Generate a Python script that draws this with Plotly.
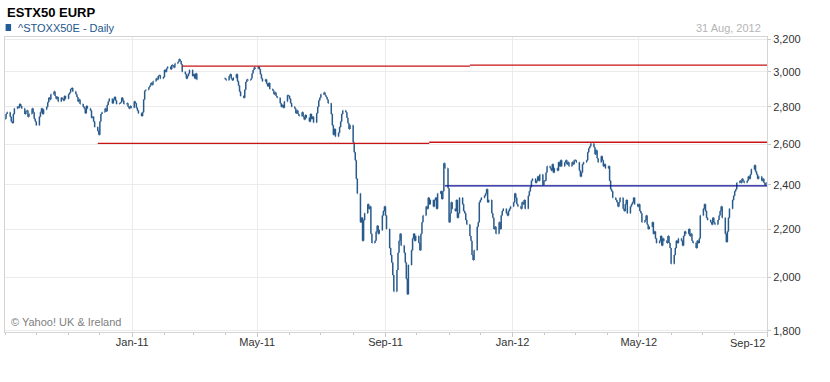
import math
import pandas as pd
import plotly.graph_objects as go

# ---------------- data (daily closes, one list per month) -------------
SEP10 = [2735, 2760, 2770, 2745, 2720, 2712, 2760, 2790, 2800, 2795, 2815, 2805, 2790, 2760, 2775, 2780, 2745, 2760, 2790, 2770, 2735, 2720]
OCT10 = [2700, 2745, 2770, 2790, 2760, 2785, 2800, 2825, 2850, 2840, 2870, 2885, 2860, 2845, 2855, 2830, 2850, 2845, 2835, 2860, 2845]
NOV10 = [2870, 2880, 2900, 2905, 2885, 2870, 2855, 2830, 2840, 2815, 2800, 2790, 2765, 2805, 2790, 2780, 2740, 2745, 2720, 2690, 2670, 2650]
DEC10 = [2720, 2760, 2770, 2790, 2775, 2810, 2830, 2845, 2820, 2840, 2855, 2835, 2815, 2820, 2825, 2850, 2835, 2815, 2820, 2800, 2790, 2805, 2795]
JAN11 = [2830, 2820, 2795, 2780, 2765, 2750, 2770, 2840, 2890, 2895, 2910, 2920, 2935, 2925, 2945, 2960, 2955, 2975, 2980, 2960, 2970]
FEB11 = [3010, 3000, 3020, 3030, 3015, 3040, 3035, 3025, 3050, 3060, 3075, 3065, 3045, 3000, 2985, 2960, 2975, 2990, 3010, 2975]
MAR11 = [2985, 2960, 2990, 2955] + [None] * 18 + [2960]
APR11 = [2950, 2975, 2985, 2960, 2950, 2965, 2985, 2945, 2920, 2885, 2860, 2850, 2895, 2940, 2955, 2950, 2960, 2990, 3010, 3025, 3020]
MAY11 = [3030, 3015, 2985, 2960, 2945, 2955, 2930, 2915, 2935, 2900, 2890, 2870, 2880, 2860, 2850, 2820, 2800, 2810, 2795, 2830, 2865, 2860]
JUN11 = [2845, 2820, 2800, 2790, 2765, 2780, 2760, 2750, 2770, 2745, 2730, 2755, 2740, 2720, 2760, 2735, 2745, 2715, 2765, 2800, 2835, 2850]
JUL11 = [2870, 2880, 2865, 2855, 2840, 2820, 2760, 2700, 2650, 2680, 2640, 2660, 2690, 2720, 2760, 2780, 2770, 2740, 2710, 2680, 2700]
AUG11 = [2610, 2560, 2520, 2430, 2360, 2230, 2250, 2150, 2240, 2270, 2310, 2290, 2300, 2180, 2140, 2150, 2190, 2215, 2180, 2195, 2260, 2280, 2300]
SEP11 = [2260, 2200, 2120, 2090, 2060, 2010, 1945, 2030, 2100, 2150, 2180, 2130, 2100, 2060, 1995, 1935, 2050, 2110, 2160, 2180, 2150, 2170]
OCT11 = [2140, 2110, 2180, 2230, 2260, 2300, 2290, 2340, 2310, 2330, 2300, 2330, 2340, 2290, 2360, 2370, 2335, 2370, 2505, 2480, 2385]
NOV11 = [2230, 2270, 2320, 2290, 2280, 2330, 2250, 2270, 2340, 2310, 2280, 2270, 2240, 2220, 2170, 2150, 2090, 2070, 2110, 2210, 2230, 2320]
DEC11 = [2330, 2340, 2350, 2360, 2380, 2320, 2330, 2270, 2250, 2200, 2210, 2180, 2230, 2200, 2260, 2280, 2290, 2270, 2260, 2280, 2290, 2300]
JAN12 = [2320, 2360, 2340, 2310, 2300, 2290, 2320, 2310, 2330, 2290, 2350, 2370, 2390, 2420, 2430, 2410, 2420, 2440, 2420, 2450, 2400, 2420]
FEB12 = [2420, 2460, 2490, 2480, 2470, 2500, 2460, 2480, 2470, 2510, 2490, 2520, 2490, 2510, 2520, 2500, 2510, 2490, 2510, 2500, 2520]
MAR12 = [2520, 2510, 2470, 2440, 2460, 2500, 2510, 2520, 2560, 2580, 2590, 2605, 2585, 2550, 2570, 2530, 2510, 2540, 2520, 2490, 2500, 2480]
APR12 = [2490, 2420, 2380, 2370, 2340, 2330, 2320, 2300, 2320, 2340, 2290, 2280, 2310, 2330, 2270, 2300, 2310, 2320, 2340, 2310, 2300]
MAY12 = [2310, 2280, 2270, 2230, 2240, 2260, 2220, 2200, 2210, 2230, 2180, 2190, 2160, 2140, 2150, 2170, 2130, 2160, 2150, 2140, 2170, 2140, 2120]
JUN12 = [2055, 2090, 2120, 2150, 2140, 2160, 2150, 2130, 2170, 2190, 2180, 2200, 2170, 2180, 2150, 2140, 2120, 2150, 2140, 2160, 2260]
JUL12 = [2290, 2310, 2280, 2250, 2240, 2230, 2220, 2250, 2230, 2220, 2240, 2260, 2280, 2300, 2250, 2180, 2145, 2190, 2250, 2290, 2330, 2350]
AUG12 = [2370, 2380, 2410, 2420, 2410, 2430, 2420, 2410, 2420, 2440, 2430, 2450, 2475, 2495, 2465, 2450, 2430, 2440, 2420, 2430, 2410, 2400, 2410]

MONTHS = ["2010-09", "2010-10", "2010-11", "2010-12", "2011-01", "2011-02", "2011-03", "2011-04",
          "2011-05", "2011-06", "2011-07", "2011-08", "2011-09", "2011-10", "2011-11", "2011-12",
          "2012-01", "2012-02", "2012-03", "2012-04", "2012-05", "2012-06", "2012-07", "2012-08"]
MONTH_CLOSES = [SEP10, OCT10, NOV10, DEC10, JAN11, FEB11, MAR11, APR11, MAY11, JUN11, JUL11, AUG11,
                SEP11, OCT11, NOV11, DEC11, JAN12, FEB12, MAR12, APR12, MAY12, JUN12, JUL12, AUG12]

# trend lines (segments: start date, end date, level)
RED_TOP = [("2011-02-18", "2011-11-21", 3034), ("2011-11-21", "2012-09-01", 3040)]
RED_MID = [("2010-11-29", "2011-10-13", 2605), ("2011-10-13", "2012-09-01", 2611)]
BLUE_LINE = [("2011-10-28", "2012-09-01", 2396)]

Y_TICKS = [1800, 2000, 2200, 2400, 2600, 2800, 3000, 3200]
Y_TICK_TEXT = ["1,800", "2,000", "2,200", "2,400", "2,600", "2,800", "3,000", "3,200"]
X_TICKS = ["2011-01-01", "2011-05-01", "2011-09-01", "2012-01-01", "2012-05-01", "2012-09-01"]
X_TICK_TEXT = ["Jan-11", "May-11", "Sep-11", "Jan-12", "May-12", "Sep-12"]

# ---------------- build daily series ----------------
dates, closes = [], []
for m, vals in zip(MONTHS, MONTH_CLOSES):
    start = pd.Timestamp(m + "-01")
    days = pd.bdate_range(start, start + pd.offsets.MonthEnd(0))
    for d, v in zip(days, vals):
        dates.append(d)
        closes.append(v)

xs, op, hi, lo, cl = [], [], [], [], []
prev = None
for d, c in zip(dates, closes):
    if c is None:
        prev = None
        continue
    o = prev if prev is not None else c
    xs.append(d)
    op.append(o)
    cl.append(c)
    hi.append(max(o, c))
    lo.append(min(o, c))
    prev = c

BAR_COLOR = "#285a8c"

fig = go.Figure()
fig.add_trace(go.Ohlc(
    x=xs, open=op, high=hi, low=lo, close=cl,
    increasing=dict(line=dict(color=BAR_COLOR, width=1.5)),
    decreasing=dict(line=dict(color=BAR_COLOR, width=1.5)),
    tickwidth=0.5, showlegend=False, hoverinfo="skip"))


def seg_trace(segs, color):
    x, y = [], []
    for a, b, lvl in segs:
        x += [a, b, None]
        y += [lvl, lvl, None]
    return go.Scatter(x=x, y=y, mode="lines", line=dict(color=color, width=1.3),
                      showlegend=False, hoverinfo="skip", connectgaps=False)


fig.add_trace(seg_trace(RED_TOP, "#c81414"))
fig.add_trace(seg_trace(RED_MID, "#c81414"))
fig.add_trace(seg_trace(BLUE_LINE, "#0a0a96"))

FONT = "Liberation Sans, Arial, sans-serif"
AX = dict(showline=True, linecolor="#d4d4d4", linewidth=1, mirror=True,
          gridcolor="#ebebeb", gridwidth=1, zeroline=False,
          tickfont=dict(family=FONT, size=11, color="#333333"))

# last x label (Sep-12) sits flush with the right edge in the reference -> annotation
x_text_axis = X_TICK_TEXT[:-1] + [""]

fig.update_layout(
    width=830, height=382,
    margin=dict(l=5, r=63, t=37, b=50),
    paper_bgcolor="white", plot_bgcolor="white",
    xaxis=dict(type="date", range=["2010-09-01", "2012-09-01"],
               tickmode="array", tickvals=X_TICKS, ticktext=x_text_axis,
               ticks="outside", ticklen=4, tickcolor="#c8c8c8",
               ticklabelstandoff=-4,
               rangeslider=dict(visible=False), showgrid=True,
               minor=dict(ticks="outside", ticklen=2, tickcolor="#c8c8c8",
                          dtick="M1", tick0="2010-09-01", showgrid=False),
               **AX),
    yaxis=dict(type="log", side="right",
               range=[math.log10(1796), math.log10(3213)],
               tickmode="array", tickvals=Y_TICKS, ticktext=Y_TICK_TEXT,
               ticks="outside", ticklen=3, tickcolor="#c8c8c8", showgrid=True,
               **AX),
    font=dict(family=FONT),
    annotations=[
        dict(text="<b>ESTX50 EURP</b>", xref="paper", yref="paper", x=0, y=1.0847,
             xanchor="left", yanchor="middle", showarrow=False,
             font=dict(family=FONT, size=13, color="#000000")),
        dict(text="^STOXX50E - Daily", xref="paper", yref="paper", x=0.0145, y=1.0322,
             xanchor="left", yanchor="middle", showarrow=False,
             font=dict(family=FONT, size=11, color="#24558c")),
        dict(text="31 Aug, 2012", xref="paper", yref="paper", x=0.9948, y=1.0305,
             xanchor="right", yanchor="middle", showarrow=False,
             font=dict(family=FONT, size=11, color="#b4b4b4")),
        dict(text="© Yahoo! UK & Ireland", xref="paper", yref="paper", x=0.0052, y=0.0339,
             xanchor="left", yanchor="middle", showarrow=False,
             font=dict(family=FONT, size=11, color="#808080")),
        dict(text=X_TICK_TEXT[-1], xref="x", yref="paper", x=X_TICKS[-1], y=-0.037,
             xanchor="right", yanchor="middle", showarrow=False,
             font=dict(family=FONT, size=11, color="#333333")),
    ],
    shapes=[dict(type="rect", xref="paper", yref="paper",
                 x0=0.0008, x1=0.0080, y0=1.0203, y1=1.0441,
                 fillcolor="#1f5c99", line=dict(width=0))],
)

fig.write_html("out.html", config={"displayModeBar": False},
               post_script="document.body.style.margin='0';document.body.style.overflow='hidden';")
